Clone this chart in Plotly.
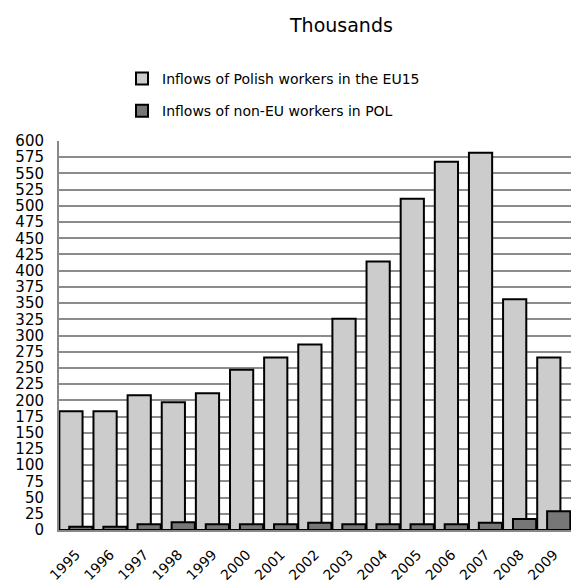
import plotly.graph_objects as go

# Annual inflows, in thousands
years = ["1995", "1996", "1997", "1998", "1999", "2000", "2001", "2002",
         "2003", "2004", "2005", "2006", "2007", "2008", "2009"]
polish_to_eu15 = [183, 183, 208, 197, 211, 247, 266, 286,
                  326, 414, 511, 568, 582, 356, 266]
non_eu_to_pol = [5, 5, 9, 12, 9, 9, 9, 11,
                 9, 9, 9, 9, 11, 17, 29]
y_ticks = list(range(0, 601, 25))

FONT = "DejaVu Sans"
W, H = 571, 583
M_L, M_R, M_T, M_B = 59, 0, 141, 53
PLOT_W = W - M_L - M_R
PLOT_H = H - M_T - M_B

fig = go.Figure()
fig.add_trace(go.Bar(
    x=years, y=polish_to_eu15,
    name="Inflows of Polish workers in the EU15",
    offset=-0.49, width=0.68,
    marker=dict(color="#cccccc", line=dict(color="#000000", width=2)),
    legendgroup="a",
))
fig.add_trace(go.Bar(
    x=years, y=non_eu_to_pol,
    name="Inflows of non-EU workers in POL",
    offset=-0.2, width=0.68,
    marker=dict(color="#777777", line=dict(color="#000000", width=2)),
    legendgroup="b",
))

fig.update_layout(
    width=W, height=H,
    margin=dict(l=M_L, r=M_R, t=M_T, b=M_B),
    paper_bgcolor="white", plot_bgcolor="white",
    barmode="overlay",
    font=dict(family=FONT, color="#000000"),
    showlegend=True,
    legend=dict(
        x=(122 - M_L) / PLOT_W, xanchor="left",
        y=1 + (M_T - 63) / PLOT_H, yanchor="top",
        font=dict(family=FONT, size=14),
        tracegroupgap=11, traceorder="grouped",
        bgcolor="rgba(0,0,0,0)",
    ),
    annotations=[dict(
        text="Thousands", xref="paper", yref="paper",
        x=(341 - M_L) / PLOT_W, y=1 + (M_T - 25) / PLOT_H,
        xanchor="center", yanchor="middle", showarrow=False,
        font=dict(family=FONT, size=19),
    )],
    xaxis=dict(
        type="category", tickangle=-45, ticks="",
        tickfont=dict(family=FONT, size=14),
        ticklabelstandoff=9, automargin=False,
        showline=True, linecolor="#888888", linewidth=2,
        showgrid=False,
    ),
    yaxis=dict(
        range=[0, 600], tickvals=y_ticks, ticks="",
        tickfont=dict(family=FONT, size=15),
        ticklabelstandoff=10, automargin=False,
        showline=True, linecolor="#888888", linewidth=2,
        showgrid=True, gridcolor="#8c8c8c", gridwidth=1.5,
        zeroline=False,
    ),
)

fig.write_html("out.html")
